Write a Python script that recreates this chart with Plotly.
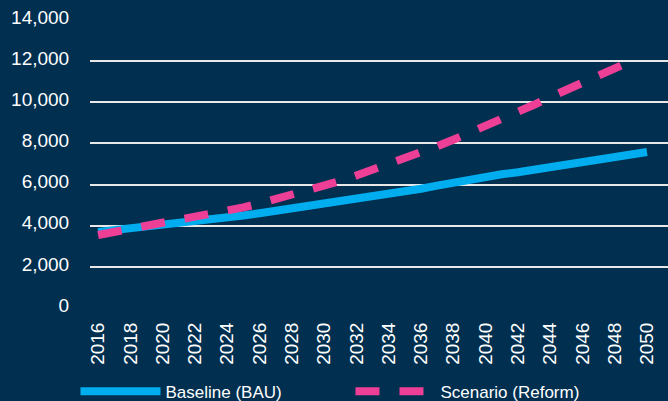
import plotly.graph_objects as go

years = list(range(2016, 2051))
baseline = [3700, 3780, 3860, 3940, 4020, 4110, 4200, 4300, 4400, 4500,
            4610, 4720, 4830, 4940, 5050, 5160, 5270, 5390, 5510, 5650,
            5800, 5950, 6100, 6250, 6380, 6500, 6600, 6720, 6830, 6940,
            7060, 7180, 7310, 7440, 7580]
scenario = [3550, 3700, 3850, 3980, 4100, 4230, 4380, 4540, 4710, 4890,
            5080, 5290, 5500, 5700, 5900, 6170, 6440, 6710, 6980, 7260,
            7560, 7860, 8180, 8500, 8820, 9150, 9500, 9880, 10250, 10600,
            10950, 11300, 11650, 12000, None]
y_ticks = [0, 2000, 4000, 6000, 8000, 10000, 12000, 14000]
x_ticks = list(range(2016, 2051, 2))

BG = "#002f50"
BLUE = "#00aeef"
PINK = "#ee3f97"

fig = go.Figure()
fig.add_trace(go.Scatter(x=years, y=baseline, mode="lines", name="Baseline (BAU)",
                         line=dict(color=BLUE, width=8)))
fig.add_trace(go.Scatter(x=years, y=scenario, mode="lines", name="Scenario (Reform)",
                         line=dict(color=PINK, width=8, dash="24px,20px")))

fig.update_layout(
    width=668, height=401,
    paper_bgcolor=BG, plot_bgcolor=BG,
    margin=dict(l=90, r=0, t=20, b=93),
    font=dict(family="Liberation Sans, Arial, sans-serif", color="white", size=19),
    showlegend=True,
    legend=dict(orientation="h", xref="container", yref="container",
                x=0.113, y=0.068, xanchor="left", yanchor="top",
                font=dict(size=17, color="white"), bgcolor="rgba(0,0,0,0)",
                itemwidth=80, entrywidth=180, entrywidthmode="pixels"),
)
fig.update_xaxes(
    range=[2015.5, 2051.3], tickvals=x_ticks, ticktext=[str(v) for v in x_ticks],
    tickangle=-90, showgrid=False, zeroline=False, showline=False,
    ticks="outside", ticklen=6, tickcolor=BG,
    tickfont=dict(size=19, color="white"),
)
fig.update_yaxes(
    range=[0, 14000], tickvals=y_ticks, ticktext=[f"{v:,}" for v in y_ticks],
    showgrid=True, gridcolor="#e8e8e8", gridwidth=1.8, zeroline=False,
    ticks="outside", ticklen=16, tickcolor=BG, ticklabelshift=-3,
    tickfont=dict(size=19, color="white"),
)
fig.write_html("out.html", config={"displayModeBar": False},
               post_script="document.body.style.margin='0px';")
